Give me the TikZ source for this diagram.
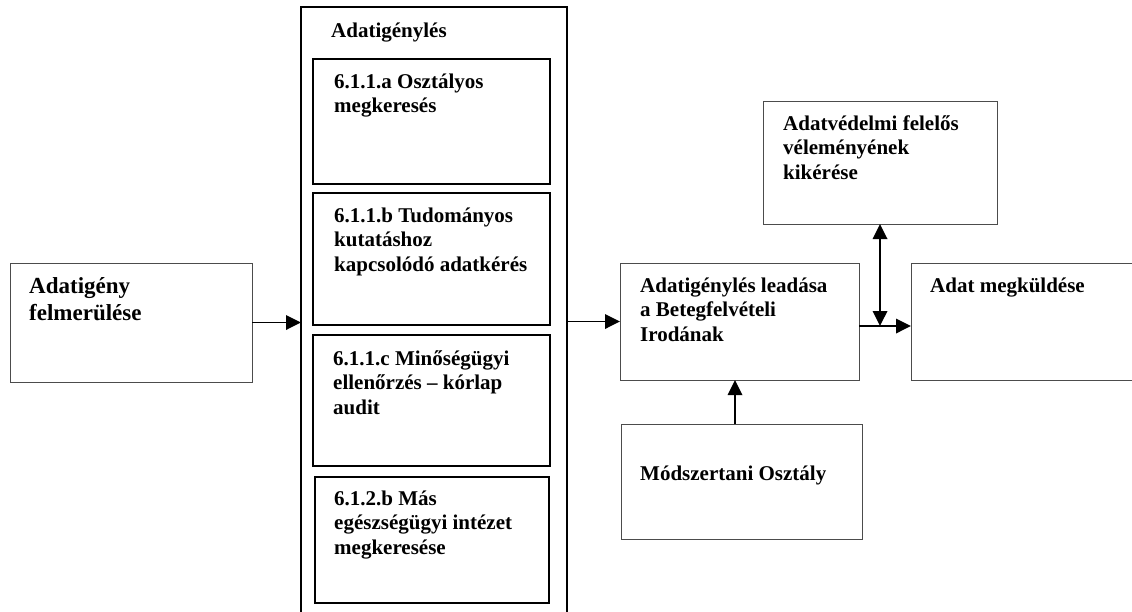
\documentclass[tikz,border=0pt]{standalone}
\usepackage{fontspec}
\setmainfont{Liberation Serif}
\usetikzlibrary{arrows.meta,calc}
\begin{document}
\begin{tikzpicture}[x=1pt,y=-1pt,
  thinbox/.style={draw=black!70,line width=1pt,inner sep=0pt,outer sep=0pt,anchor=north west},
  thickbox/.style={draw=black,line width=2pt,inner sep=0pt,outer sep=0pt,anchor=north west},
  txt/.style={anchor=base west,inner sep=0pt,align=left,font=\bfseries\fontsize{21}{24.5}\selectfont},
  bigtxt/.style={txt,font=\bfseries\fontsize{23}{27}\selectfont},
  tip/.tip={Triangle[length=15pt,width=14.5pt]},
  arr/.style={line width=1.8pt,-tip},
  darr/.style={line width=1.8pt,tip-tip}]
\useasboundingbox (0,0) rectangle (1132,611);
\clip (0,0) rectangle (1132,611);
\fill[white] (0,0) rectangle (1132,611);

% boxes
\node[thinbox,minimum width=242pt,minimum height=119pt] (A) at (10,263) {};
\node[thickbox,minimum width=266pt,minimum height=613pt] (outer) at (301,7) {};
\node[thickbox,minimum width=237pt,minimum height=125pt] (i1) at (313,59) {};
\node[thickbox,minimum width=237pt,minimum height=132pt] (i2) at (313,193) {};
\node[thickbox,minimum width=237pt,minimum height=131pt] (i3) at (313,335) {};
\node[thickbox,minimum width=234pt,minimum height=126pt] (i4) at (315,477) {};
\node[thinbox,minimum width=239pt,minimum height=117pt] (B) at (620,263) {};
\node[thinbox,minimum width=234pt,minimum height=123pt] (C) at (763,101) {};
\node[thinbox,minimum width=240pt,minimum height=117pt] (D) at (911,263) {};
\node[thinbox,minimum width=241pt,minimum height=115pt] (E) at (621,424) {};

% texts (anchor = baseline of the last line)
\node[bigtxt] (tA) at (29,320) {Adatigény\\felmerülése};
\node[txt] (tO) at (331,37) {Adatigénylés};
\node[txt] (t1) at (334,112.5) {6.1.1.a Osztályos\\megkeresés};
\node[txt] (t2) at (334,271) {6.1.1.b Tudományos\\kutatáshoz\\kapcsolódó adatkérés};
\node[txt] (t3) at (333,414) {6.1.1.c Minőségügyi\\ellenőrzés – kórlap\\audit};
\node[txt] (t4) at (334,554) {6.1.2.b Más\\egészségügyi intézet\\megkeresése};
\node[txt] (tB) at (640,341) {Adatigénylés leadása\\a Betegfelvételi\\Irodának};
\node[txt] (tC) at (783,179) {Adatvédelmi felelős\\véleményének\\kikérése};
\node[txt] (tD) at (930,292) {Adat megküldése};
\node[txt] (tE) at (640,480) {Módszertani Osztály};

% connectors
\coordinate (j) at (880,326);
\coordinate (k) at (735,400);
\draw[arr] (A.east) -- (A.east -| outer.west);
\draw[arr] (B.west -| outer.east) -- (B.west);
\draw[arr] (B.east |- j) -- (D.west |- j);
\draw[darr] (C.south -| j) -- (j);
\draw[arr] (E.north -| k) -- (B.south -| k);
\end{tikzpicture}
\end{document}
